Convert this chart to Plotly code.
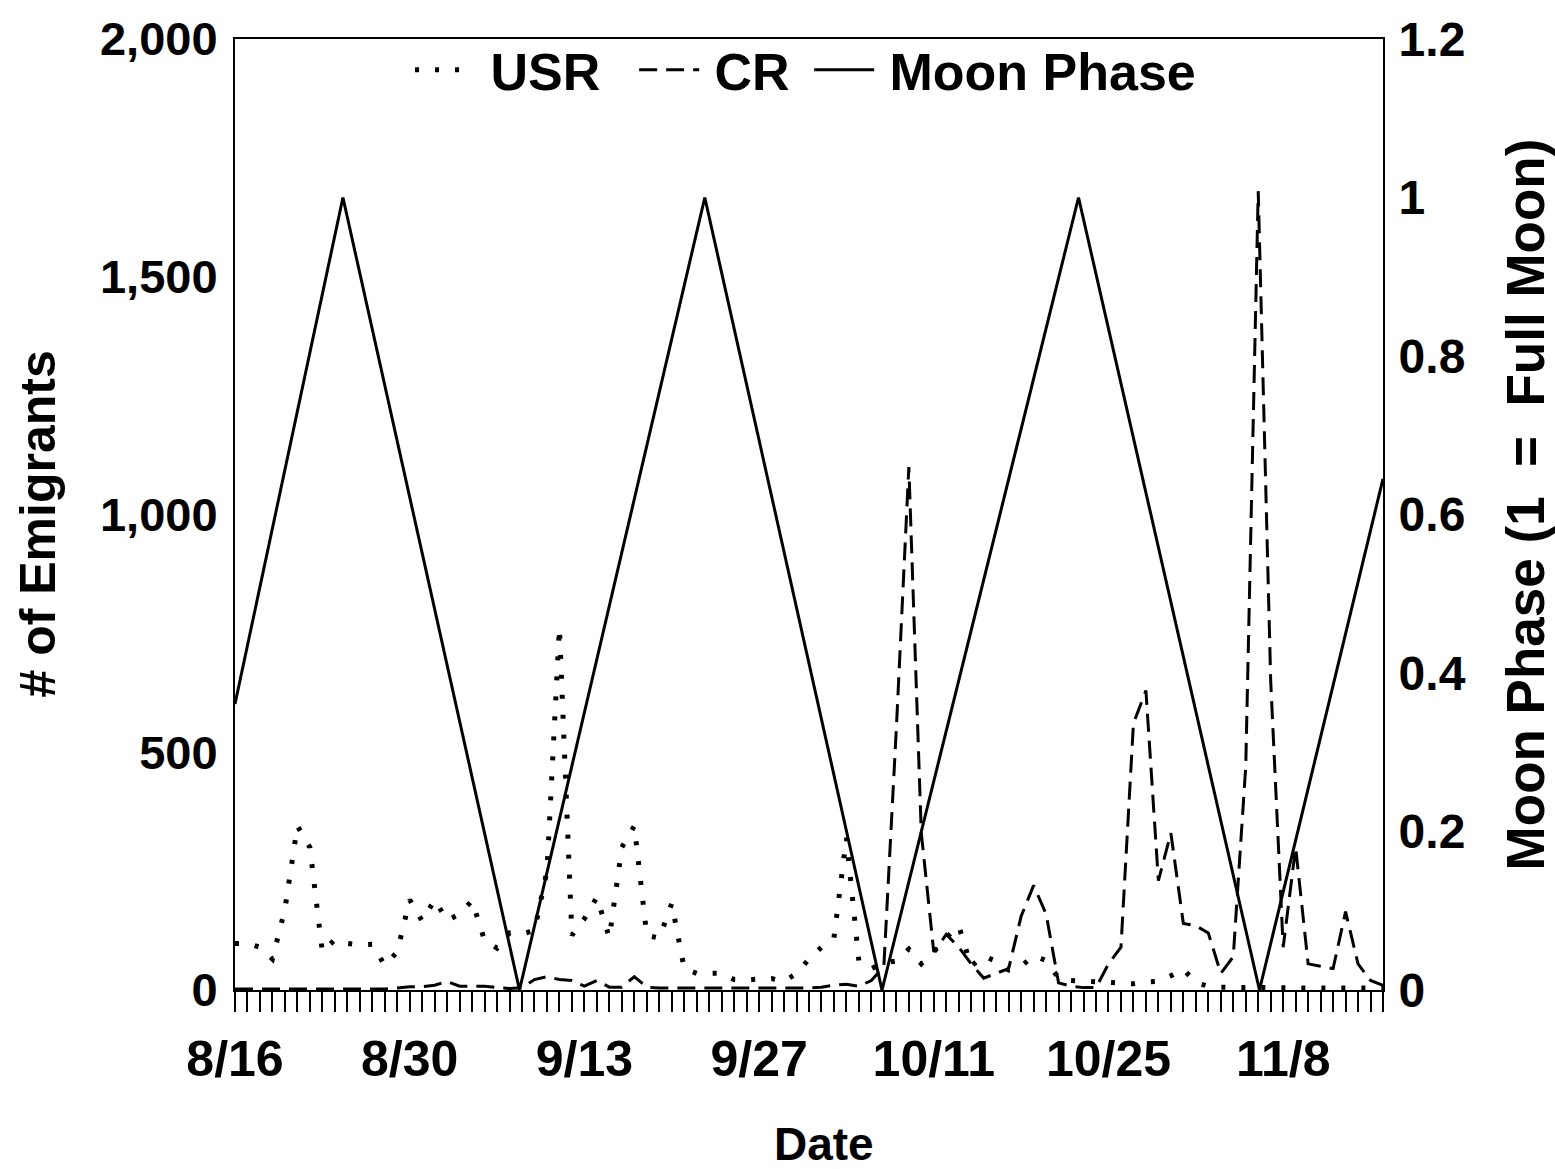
import plotly.graph_objects as go

# ---------------- data ----------------
days = list(range(93))  # day offsets from 8/16

usr = [98, 98, 90, 65, 170, 345, 300, 80, 106, 98,
       95, 96, 52, 80, 190, 145, 190, 146, 160, 188,
       104, 88, 120, 118, 125, 250, 762, 115, 150, 195,
       110, 300, 345, 115, 109, 182, 45, 35, 35, 35,
       22, 21, 23, 24, 18, 35, 65, 90, 110, 320,
       60, 45, 57, 61, 86, 55, 80, 110, 135, 50,
       72, 60, 42, 50, 72, 62, 25, 20, 19, 17,
       17, 14, 13, 17, 18, 30, 44, 15, 8, 6,
       5, 5, 5, 5, 4, 4, 4, 4, 4, 4,
       4, 4, 4]

cr = [2, 2, 2, 2, 2, 2, 2, 2, 2, 2,
      2, 2, 2, 4, 7, 7, 10, 18, 8, 8,
      8, 5, 3, 5, 22, 28, 22, 20, 8, 20,
      6, 6, 28, 6, 4, 4, 4, 4, 4, 4,
      4, 4, 4, 4, 4, 4, 4, 6, 10, 12,
      8, 20, 50, 550, 1100, 330, 80, 117, 90, 55,
      25, 35, 45, 155, 220, 160, 15, 8, 5, 5,
      55, 90, 560, 630, 230, 330, 140, 135, 120, 35,
      70, 470, 1680, 650, 90, 300, 55, 50, 45, 165,
      55, 20, 10]

moon_days = [0, 8.65, 22.8, 37.65, 51.85, 67.6, 82.1, 92]
moon_vals = [0.361, 1, 0, 1, 0, 1, 0, 0.645]

tick_days = [0, 14, 28, 42, 56, 70, 84]
tick_labels = ["8/16", "8/30", "9/13", "9/27", "10/11", "10/25", "11/8"]

left_ticks = [0, 500, 1000, 1500, 2000]
left_labels = ["0", "500", "1,000", "1,500", "2,000"]
right_ticks = [0, 0.2, 0.4, 0.6, 0.8, 1.0, 1.2]
right_labels = ["0", "0.2", "0.4", "0.6", "0.8", "1", "1.2"]

FONT = "Liberation Sans"

fig = go.Figure()
fig.add_trace(go.Scatter(x=days, y=usr, mode="lines", name="\u2009USR\u00a0\u00a0",
                         line=dict(color="black", width=5, dash="4px,16px")))
fig.add_trace(go.Scatter(x=days, y=cr, mode="lines", name="\u2009CR\u00a0",
                         line=dict(color="black", width=3, dash="18px,9px")))
fig.add_trace(go.Scatter(x=moon_days, y=moon_vals, mode="lines", name="\u2009Moon Phase",
                         yaxis="y2", line=dict(color="black", width=3)))

fig.update_layout(
    width=1555, height=1169,
    margin=dict(l=235, r=172, t=32, b=179),
    paper_bgcolor="white", plot_bgcolor="white",
    font=dict(family=FONT, color="black", weight="bold"),
    showlegend=True,
    legend=dict(orientation="h", x=0.497, xanchor="center", y=1.01, yanchor="top",
                font=dict(size=52, family=FONT, weight="bold"),
                bgcolor="rgba(0,0,0,0)", itemwidth=60),
    xaxis=dict(range=[0, 92], tickmode="array", tickvals=tick_days, ticktext=tick_labels,
               ticks="outside", ticklen=20, tickwidth=2, tickcolor="black",
               showline=True, linewidth=2, linecolor="black", mirror=True,
               showgrid=False, zeroline=False,
               tickfont=dict(size=50, family=FONT, weight="bold"),
               ticklabelstandoff=4,
               minor=dict(dtick=1, tick0=0, ticks="outside", ticklen=20,
                          tickwidth=2, tickcolor="black", showgrid=False)),
    yaxis=dict(range=[0, 2000], tickmode="array", tickvals=left_ticks, ticktext=left_labels,
               ticks="", showline=True, linewidth=2, linecolor="black",
               showgrid=False, zeroline=False,
               tickfont=dict(size=47, family=FONT, weight="bold"),
               ticklabelstandoff=6),
    yaxis2=dict(range=[0, 1.2], overlaying="y", side="right", tickmode="array",
                tickvals=right_ticks, ticktext=right_labels,
                ticks="", showline=True, linewidth=2, linecolor="black",
                showgrid=False, zeroline=False,
                tickfont=dict(size=48, family=FONT, weight="bold"),
                ticklabelstandoff=4),
    annotations=[
        dict(text="# of Emigrants", xref="paper", yref="paper", x=-0.172, y=0.49,
             textangle=-90, showarrow=False, xanchor="center", yanchor="middle",
             font=dict(size=50, family=FONT, weight="bold")),
        dict(text="Moon Phase (1\u00a0\u00a0=\u00a0\u00a0Full Moon)", xref="paper", yref="paper",
             x=1.124, y=0.511, textangle=-90, showarrow=False,
             xanchor="center", yanchor="middle",
             font=dict(size=53, family=FONT, weight="bold")),
        dict(text="Date", xref="paper", yref="paper", x=0.513, y=-0.162,
             showarrow=False, xanchor="center", yanchor="middle",
             font=dict(size=46, family=FONT, weight="bold")),
    ],
)

fig.write_html("out.html")
